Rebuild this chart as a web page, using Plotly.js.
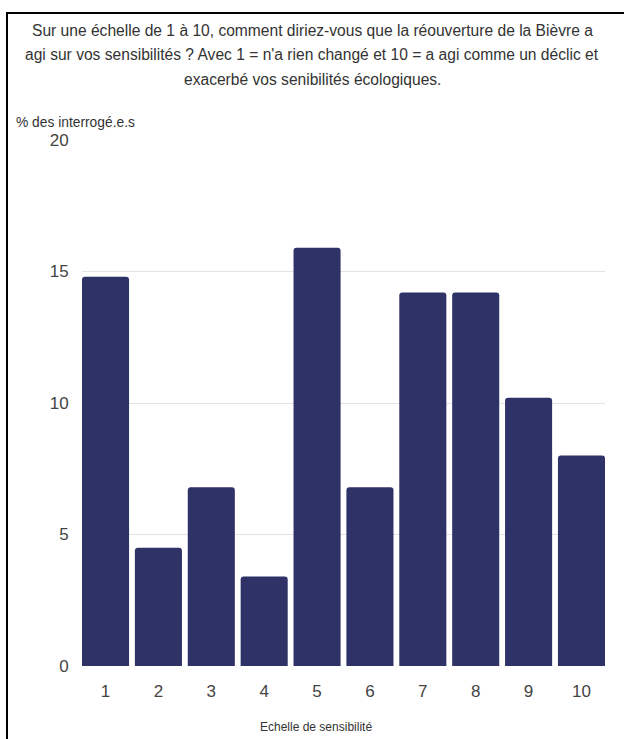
<!DOCTYPE html>
<html>
<head>
<meta charset="utf-8">
<script src="https://cdn.plot.ly/plotly-3.0.1.min.js"></script>
<style>
  html, body { margin: 0; padding: 0; background: #fff; }
  #wrap { position: relative; width: 624px; height: 739px; overflow: hidden; }
  #chart { position: absolute; left: 0; top: 0; width: 624px; height: 739px; }
  #frame { position: absolute; left: 6px; top: 12px; width: 640px; height: 740px;
           border-left: 2px solid #000; border-top: 2px solid #000; pointer-events: none; }
</style>
</head>
<body>
<div id="wrap">
  <div id="chart"></div>
  <div id="frame"></div>
</div>
<script>
const categories = [1, 2, 3, 4, 5, 6, 7, 8, 9, 10];
const tickLabels = ["1", "2", "3", "4", "5", "6", "7", "8", "9", "10"];
const values = [14.8, 4.5, 6.8, 3.4, 15.9, 6.8, 14.2, 14.2, 10.2, 8.0];
const titleLines = [
  "Sur une échelle de 1 à 10, comment diriez-vous que la réouverture de la Bièvre a",
  "agi sur vos sensibilités ? Avec 1 = n'a rien changé et 10 = a agi comme un déclic et",
  "exacerbé vos senibilités écologiques."
];
const yTitle = "% des interrogé.e.s";
const xTitle = "Echelle de sensibilité";

const W = 624, H = 739;
const mL = 82, mR = 19, mT = 140, mB = 73;
const plotH = H - mT - mB;
function py(px) { return (H - mB - px) / plotH; }
function pxX(px) { return (px - mL) / (W - mL - mR); }

const gap = 0.11;
const font = "Arial, 'Liberation Sans', sans-serif";

const annotations = titleLines.map((t, i) => ({
  text: t, xref: 'paper', yref: 'paper',
  x: pxX(312), y: py(31 + i * 24), xanchor: 'center', yanchor: 'middle',
  showarrow: false, font: { family: font, size: 15.6, color: '#333333' }
}));
annotations.push({
  text: yTitle, xref: 'paper', yref: 'paper',
  x: pxX(14), y: py(122), xanchor: 'left', yanchor: 'middle',
  showarrow: false, font: { family: font, size: 13.8, color: '#333333' }
});
annotations.push({
  text: xTitle, xref: 'paper', yref: 'paper',
  x: pxX(316), y: py(727), xanchor: 'center', yanchor: 'middle',
  showarrow: false, font: { family: font, size: 12, color: '#333333' }
});

Plotly.newPlot('chart', [{
  type: 'bar',
  x: categories,
  y: values,
  marker: { color: '#2f3267', cornerradius: 3, line: { width: 0 } },
  hoverinfo: 'none'
}], {
  width: W, height: H,
  margin: { l: mL, r: mR, t: mT, b: mB, pad: 0 },
  paper_bgcolor: '#ffffff', plot_bgcolor: '#ffffff',
  bargap: gap,
  showlegend: false,
  xaxis: {
    type: 'linear',
    range: [0.5 + gap / 2, 10.5 - gap / 2],
    tickmode: 'array', tickvals: categories, ticktext: tickLabels,
    showgrid: false, zeroline: false, showline: false,
    ticks: 'outside', ticklen: 10, tickcolor: 'rgba(0,0,0,0)',
    tickfont: { family: font, size: 17, color: '#444444' },
    fixedrange: true
  },
  yaxis: {
    range: [0, 20],
    tickvals: [0, 5, 10, 15, 20],
    ticktext: ["0", "5", "10", "15", "20"],
    showgrid: true, gridcolor: '#e3e3e3', gridwidth: 1,
    zeroline: false, showline: false,
    ticks: 'outside', ticklen: 9, tickcolor: 'rgba(0,0,0,0)',
    tickfont: { family: font, size: 17, color: '#444444' },
    fixedrange: true
  },
  annotations: annotations
}, { displayModeBar: false, staticPlot: true });
</script>
</body>
</html>
